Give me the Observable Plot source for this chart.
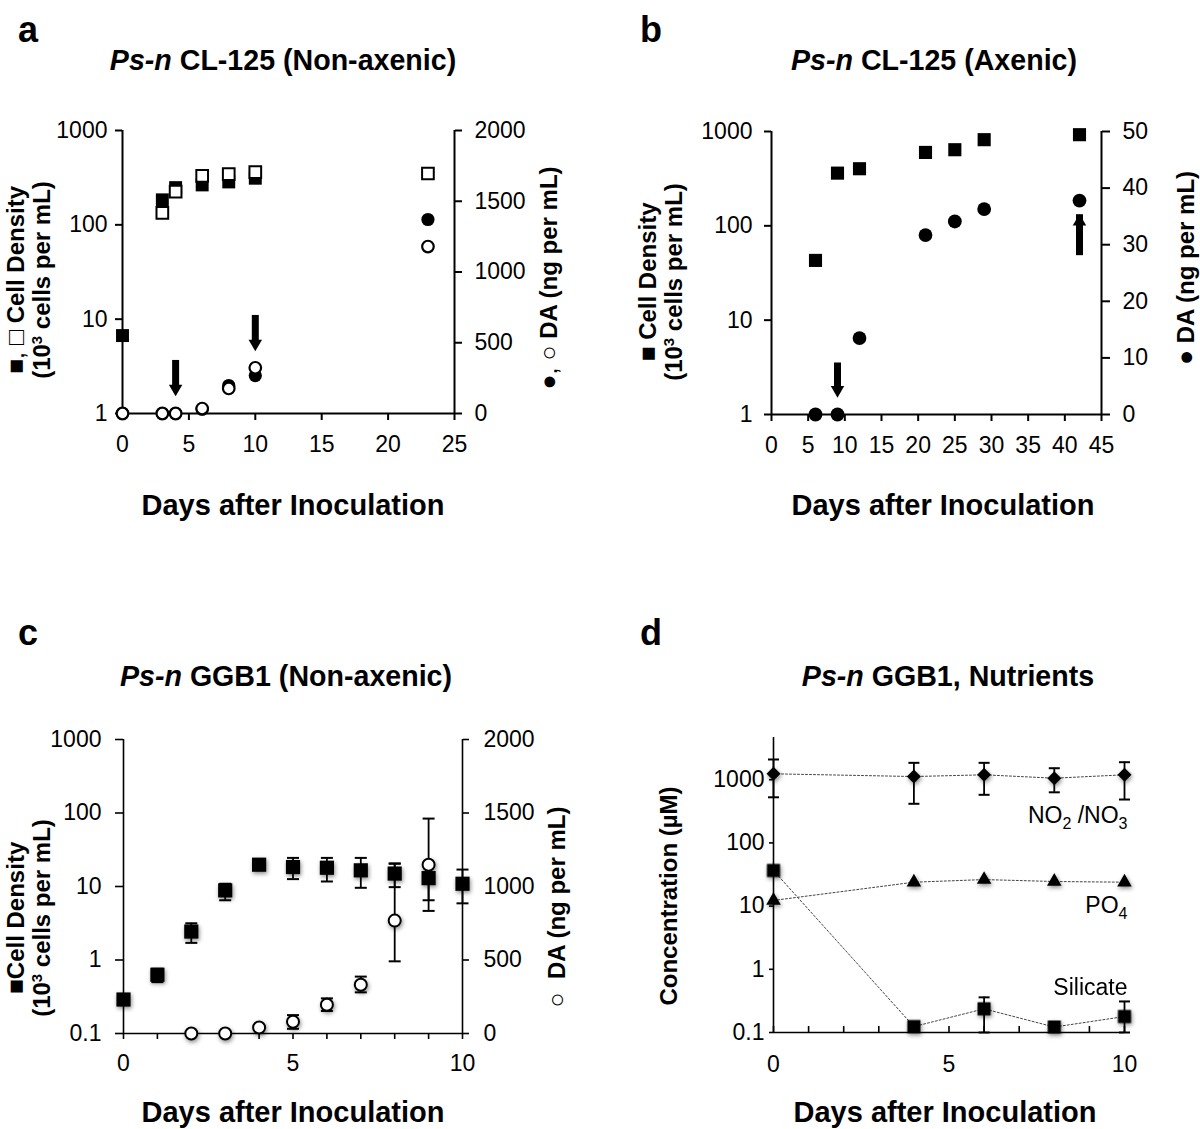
<!DOCTYPE html>
<html><head><meta charset="utf-8">
<script src="https://cdn.jsdelivr.net/npm/d3@7"></script>
<script src="https://cdn.jsdelivr.net/npm/@observablehq/plot@0.6"></script>
<style>
body{margin:0;background:#fff;}
#root{position:relative;width:1200px;height:1129px;background:#fff;font-family:"Liberation Sans",Arial,sans-serif;color:#000;overflow:hidden}
.t{position:absolute;white-space:nowrap;transform:translate(-50%,-50%);}
.rot{transform:translate(-50%,-50%) rotate(-90deg);text-align:center;font-weight:bold;font-size:24px;line-height:26px;}
.sym{font-size:25px;font-weight:normal;line-height:0;}
sup{font-size:0.62em;line-height:0;vertical-align:0.55em;}
.title{font-weight:bold;font-size:28.6px;}
.xt{font-weight:bold;font-size:29px;}
.letter{font-weight:bold;font-size:36px;}
</style></head><body><div id="root"></div>
<script>
// ---------- Panel a: Ps-n CL-125 (Non-axenic) ----------
const aDayTicks = [0, 5, 10, 15, 20, 25];
const aCellTicks = [1, 10, 100, 1000];
const aDATicks = [0, 500, 1000, 1500, 2000];
const aSqFilledDays = [0, 3, 4, 6, 8, 10];
const aSqFilledCells = [6.7, 184, 248, 265, 285, 312];
const aSqOpenDays = [3, 4, 6, 8, 10, 23];
const aSqOpenCells = [134, 225, 330, 345, 362, 350];
const aCircFilledDays = [0, 3, 4, 6, 8, 10, 23];
const aCircFilledDA = [0, 0, 0, 30, 198, 268, 1371];
const aCircOpenDays = [0, 3, 4, 6, 8, 10, 23];
const aCircOpenDA = [0, 0, 0, 35, 177, 323, 1180];
const aArrowDays = [4, 10];
const aArrowTail = [375, 693];
const aArrowTip = [127, 445];

// ---------- Panel b: Ps-n CL-125 (Axenic) ----------
const bDayTicks = [0, 5, 10, 15, 20, 25, 30, 35, 40, 45];
const bCellTicks = [1, 10, 100, 1000];
const bDATicks = [0, 10, 20, 30, 40, 50];
const bDays = [6, 9, 12, 21, 25, 29, 42];
const bCells = [43, 362, 403, 600, 641, 819, 925];
const bDA = [0, 0, 13.5, 31.7, 34.1, 36.3, 37.8];
const bArrowDays = [9, 42];
const bArrowTail = [9.1, 29.3];
const bArrowTip = [3.1, 35.3];
const bArrowDir = ["down", "up"];

// ---------- Panel c: Ps-n GGB1 (Non-axenic) ----------
const cDayTicks = [0, 1, 2, 3, 4, 5, 6, 7, 8, 9, 10];
const cCellTicks = [0.1, 1, 10, 100, 1000];
const cDATicks = [0, 500, 1000, 1500, 2000];
const cCellDays = [0, 1, 2, 3, 4, 5, 6, 7, 8, 9, 10];
const cCells = [0.29, 0.63, 2.44, 8.85, 19.8, 18.4, 18.0, 16.6, 15.0, 13.0, 10.9];
const cCellsLo = [0.29, 0.50, 1.71, 6.5, 18.5, 12.6, 11.7, 9.6, 9.8, 6.5, 5.9];
const cCellsHi = [0.29, 0.76, 3.16, 10.9, 21.0, 24.5, 24.5, 24.5, 20.6, 19.5, 17.0];
const cDADays = [2, 3, 4, 5, 6, 7, 8, 9];
const cDA = [0, 0, 41, 80, 196, 332, 768, 1148];
const cDALo = [0, 0, 41, 32, 153, 280, 491, 834];
const cDAHi = [0, 0, 41, 125, 239, 387, 1155, 1462];

// ---------- Panel d: Ps-n GGB1, Nutrients ----------
const dDayTicks = [0, 1, 2, 3, 4, 5, 6, 7, 8, 9, 10];
const dConcTicks = [0.1, 1, 10, 100, 1000];
const dDays = [0, 4, 6, 8, 10];
const dNO = [1240, 1123, 1196, 1057, 1196];
const dNOLo = [527, 416, 577, 632, 486];
const dNOHi = [2090, 1850, 1850, 1520, 1893];
const dPO4 = [12.3, 23.9, 26.3, 24.5, 23.9];
const dSi = [36.6, 0.124, 0.237, 0.122, 0.179];
const dSiLo = [36.6, 0.124, 0.1, 0.122, 0.1];
const dSiHi = [36.6, 0.124, 0.36, 0.122, 0.31];
const dLabels = ["NO\u2082 /NO\u2083", "PO\u2084", "Silicate"];
const dLabelDay = [10, 10, 10];
const dLabelConc = [272, 10.2, 0.52];

// ---------- helpers ----------
const root = document.getElementById("root");
const fmt = d => String(d);
const every5 = d => (d % 5 === 0 ? String(d) : "");
const cap = {draw(ctx, size) { const w = Math.sqrt(size / Math.PI); ctx.moveTo(-w, 0); ctx.lineTo(w, 0); }};
const baseStyle = {fontFamily: '"Liberation Sans", Arial, sans-serif', fontSize: "23px", background: "transparent", overflow: "visible", color: "black"};
const shadow = "drop-shadow(1px 2px 2px rgba(0,0,0,0.45))";
const pts = (xs, ys, extra = {}) => xs.map((x, i) => {
  const o = {x, y: ys[i]};
  for (const k in extra) o[k] = extra[k][i];
  return o;
});
function place(svg, left, top) {
  svg.style.position = "absolute";
  svg.style.left = left + "px";
  svg.style.top = top + "px";
  root.appendChild(svg);
  return svg;
}
function text(x, y, html, cls) {
  const d = document.createElement("div");
  d.className = "t " + (cls || "");
  d.style.left = x + "px";
  d.style.top = y + "px";
  d.innerHTML = html;
  root.appendChild(d);
}
// turn unicode subscript digits into real lowered, smaller tspans
const subMap = {"\u2082": "2", "\u2083": "3", "\u2084": "4"};
function fixSubscripts(svg) {
  const ns = "http://www.w3.org/2000/svg";
  svg.querySelectorAll("text").forEach(t => {
    const s = t.textContent;
    if (!/[\u2082-\u2084]/.test(s)) return;
    while (t.firstChild) t.removeChild(t.firstChild);
    let lowered = false;
    for (const ch of s) {
      const ts = document.createElementNS(ns, "tspan");
      if (subMap[ch]) {
        ts.textContent = subMap[ch];
        ts.setAttribute("font-size", "16");
        ts.setAttribute("dy", lowered ? "0" : "6");
        lowered = true;
      } else {
        ts.textContent = ch;
        ts.setAttribute("dy", lowered ? "-6" : "0");
        lowered = false;
      }
      t.appendChild(ts);
    }
  });
}

// ---------- Panel a ----------
const dimA = {width: 600, height: 360, marginTop: 30, marginBottom: 47, marginLeft: 122, marginRight: 146, style: baseStyle};
const aArrows = pts(aArrowDays, aArrowTail, {tip: aArrowTip});
place(Plot.plot({
  ...dimA,
  x: {domain: [0, 25]},
  y: {type: "log", domain: [1, 1000]},
  marks: [
    Plot.ruleX([0], {strokeWidth: 2}),
    Plot.ruleY([1], {strokeWidth: 2}),
    Plot.axisY({ticks: aCellTicks, tickFormat: fmt, tickSize: 7, tickPadding: 8, strokeWidth: 2, label: null}),
    Plot.axisX({ticks: aDayTicks, tickFormat: fmt, tickSize: 7, tickPadding: 15, strokeWidth: 2, label: null}),
    Plot.dot(pts(aSqFilledDays, aSqFilledCells), {x: "x", y: "y", symbol: "square", r: 7.3, fill: "black"}),
    Plot.dot(pts(aSqOpenDays, aSqOpenCells), {x: "x", y: "y", symbol: "square", r: 6.6, fill: "white", stroke: "black", strokeWidth: 2})
  ]
}), 0, 100);
place(Plot.plot({
  ...dimA,
  x: {domain: [0, 25], axis: null},
  y: {domain: [0, 2000]},
  marks: [
    Plot.ruleX([25], {strokeWidth: 2}),
    Plot.axisY({anchor: "right", ticks: aDATicks, tickFormat: fmt, tickSize: 7, tickPadding: 13, strokeWidth: 2, label: null}),
    Plot.ruleX(aArrows, {x: "x", y1: "y", y2: "tip", strokeWidth: 7, insetBottom: 7}),
    Plot.dot(aArrows, {x: "x", y: "tip", symbol: "triangle", r: 5, rotate: 180, dy: -7, fill: "black"}),
    Plot.dot(pts(aCircFilledDays, aCircFilledDA), {x: "x", y: "y", r: 6.6, fill: "black"}),
    Plot.dot(pts(aCircOpenDays, aCircOpenDA), {x: "x", y: "y", r: 5.8, fill: "white", stroke: "black", strokeWidth: 2.2})
  ]
}), 0, 100);

// ---------- Panel b ----------
const dimB = {width: 600, height: 360, marginTop: 31, marginBottom: 46, marginLeft: 171, marginRight: 99, style: baseStyle};
const bArrows = pts(bArrowDays, bArrowTail, {tip: bArrowTip, dir: bArrowDir});
place(Plot.plot({
  ...dimB,
  x: {domain: [0, 45]},
  y: {type: "log", domain: [1, 1000]},
  marks: [
    Plot.ruleX([0], {strokeWidth: 2}),
    Plot.ruleY([1], {strokeWidth: 2}),
    Plot.axisY({ticks: bCellTicks, tickFormat: fmt, tickSize: 7, tickPadding: 12, strokeWidth: 2, label: null}),
    Plot.axisX({ticks: bDayTicks, tickFormat: fmt, tickSize: 7, tickPadding: 15, strokeWidth: 2, label: null}),
    Plot.dot(pts(bDays, bCells), {x: "x", y: "y", symbol: "square", r: 7.4, fill: "black"})
  ]
}), 600, 100);
place(Plot.plot({
  ...dimB,
  x: {domain: [0, 45], axis: null},
  y: {domain: [0, 50]},
  marks: [
    Plot.ruleX([45], {strokeWidth: 2}),
    Plot.axisY({anchor: "right", ticks: bDATicks, tickFormat: fmt, tickSize: 8, tickPadding: 13, strokeWidth: 2, label: null}),
    Plot.ruleX(bArrows.filter(d => d.dir === "down"), {x: "x", y1: "y", y2: "tip", strokeWidth: 7, insetBottom: 7}),
    Plot.dot(bArrows.filter(d => d.dir === "down"), {x: "x", y: "tip", symbol: "triangle", r: 5, rotate: 180, dy: -7, fill: "black"}),
    Plot.ruleX(bArrows.filter(d => d.dir === "up"), {x: "x", y1: "y", y2: "tip", strokeWidth: 7, insetTop: 7}),
    Plot.dot(bArrows.filter(d => d.dir === "up"), {x: "x", y: "tip", symbol: "triangle", r: 5, dy: 7, fill: "black"}),
    Plot.dot(pts(bDays, bDA), {x: "x", y: "y", r: 6.9, fill: "black"})
  ]
}), 600, 100);

// ---------- Panel c ----------
const dimC = {width: 600, height: 370, marginTop: 29, marginBottom: 47, marginLeft: 123, marginRight: 138, style: baseStyle};
const cSq = pts(cCellDays, cCells, {lo: cCellsLo, hi: cCellsHi});
const cCi = pts(cDADays, cDA, {lo: cDALo, hi: cDAHi});
place(Plot.plot({
  ...dimC,
  x: {domain: [0, 10]},
  y: {type: "log", domain: [0.1, 1000]},
  marks: [
    Plot.ruleX([0], {strokeWidth: 1.6}),
    Plot.ruleY([0.1], {strokeWidth: 1.6}),
    Plot.axisY({ticks: cCellTicks, tickFormat: fmt, tickSize: 8, tickPadding: 14, strokeWidth: 1.6, label: null}),
    Plot.axisX({ticks: cDayTicks, tickFormat: every5, tickSize: 6, tickPadding: 15, strokeWidth: 1.6, label: null}),
    Plot.ruleX(cSq, {x: "x", y1: "lo", y2: "hi", strokeWidth: 1.8}),
    Plot.dot(cSq, {x: "x", y: "lo", symbol: cap, r: 6, stroke: "black", strokeWidth: 2}),
    Plot.dot(cSq, {x: "x", y: "hi", symbol: cap, r: 6, stroke: "black", strokeWidth: 2}),
    Plot.dot(cSq, {x: "x", y: "y", symbol: "square", r: 8, fill: "black", imageFilter: shadow})
  ]
}), 0, 710);
place(Plot.plot({
  ...dimC,
  x: {domain: [0, 10], axis: null},
  y: {domain: [0, 2000]},
  marks: [
    Plot.ruleX([10], {strokeWidth: 1.6}),
    Plot.axisY({anchor: "right", ticks: cDATicks, tickFormat: fmt, tickSize: 6, tickPadding: 15, strokeWidth: 1.6, label: null}),
    Plot.ruleX(cCi, {x: "x", y1: "lo", y2: "hi", strokeWidth: 1.8}),
    Plot.dot(cCi, {x: "x", y: "lo", symbol: cap, r: 6, stroke: "black", strokeWidth: 2}),
    Plot.dot(cCi, {x: "x", y: "hi", symbol: cap, r: 6, stroke: "black", strokeWidth: 2}),
    Plot.dot(cCi, {x: "x", y: "y", r: 6, fill: "white", stroke: "black", strokeWidth: 2, imageFilter: shadow})
  ]
}), 0, 710);

// ---------- Panel d ----------
const dNORows = pts(dDays, dNO, {lo: dNOLo, hi: dNOHi});
const dPORows = pts(dDays, dPO4);
const dSiRows = pts(dDays, dSi, {lo: dSiLo, hi: dSiHi});
const dLab = pts(dLabelDay, dLabelConc, {label: dLabels});
const svgD = place(Plot.plot({
  width: 600, height: 370, marginTop: 27, marginBottom: 48, marginLeft: 173, marginRight: 76, style: baseStyle,
  x: {domain: [0, 10]},
  y: {type: "log", domain: [0.1, 4656]},
  marks: [
    Plot.ruleX([0], {strokeWidth: 1.6}),
    Plot.ruleY([0.1], {strokeWidth: 1.6}),
    Plot.axisY({ticks: dConcTicks, tickFormat: fmt, tickSize: 4, tickPadding: 5, strokeWidth: 1.6, label: null}),
    Plot.axisX({ticks: dDayTicks, tickFormat: every5, tickSize: 0, tickPadding: 23, label: null}),
    Plot.ruleX(dDayTicks, {strokeWidth: 1.6, insetTop: 289}),
    Plot.line(dNORows, {x: "x", y: "y", stroke: "#444", strokeWidth: 1, strokeDasharray: "2,2"}),
    Plot.line(dPORows, {x: "x", y: "y", stroke: "#444", strokeWidth: 1, strokeDasharray: "2,2"}),
    Plot.line(dSiRows, {x: "x", y: "y", stroke: "#444", strokeWidth: 1, strokeDasharray: "2,2"}),
    Plot.ruleX(dNORows, {x: "x", y1: "lo", y2: "hi", strokeWidth: 1.8}),
    Plot.dot(dNORows, {x: "x", y: "lo", symbol: cap, r: 5.5, stroke: "black", strokeWidth: 2}),
    Plot.dot(dNORows, {x: "x", y: "hi", symbol: cap, r: 5.5, stroke: "black", strokeWidth: 2}),
    Plot.ruleX(dSiRows, {x: "x", y1: "lo", y2: "hi", strokeWidth: 1.8}),
    Plot.dot(dSiRows, {x: "x", y: "lo", symbol: cap, r: 5.5, stroke: "black", strokeWidth: 2}),
    Plot.dot(dSiRows, {x: "x", y: "hi", symbol: cap, r: 5.5, stroke: "black", strokeWidth: 2}),
    Plot.dot(dNORows, {x: "x", y: "y", symbol: "diamond2", r: 6.3, fill: "black", imageFilter: shadow}),
    Plot.dot(dPORows, {x: "x", y: "y", symbol: "triangle", r: 5.4, fill: "black", imageFilter: shadow}),
    Plot.dot(dSiRows, {x: "x", y: "y", symbol: "square", r: 7.4, fill: "black", imageFilter: shadow}),
    Plot.text(dLab, {x: "x", y: "y", text: "label", textAnchor: "end", dx: 3, fontSize: 23})
  ]
}), 600, 710);
fixSubscripts(svgD);

// ---------- titles and axis labels ----------
text(28, 30, "a", "letter");
text(651, 30, "b", "letter");
text(28, 633, "c", "letter");
text(651, 633, "d", "letter");
text(283, 60, "<i>Ps-n</i> CL-125 (Non-axenic)", "title");
text(934, 60, "<i>Ps-n</i> CL-125 (Axenic)", "title");
text(286, 676, "<i>Ps-n</i> GGB1 (Non-axenic)", "title");
text(948, 676, "<i>Ps-n</i> GGB1, Nutrients", "title");
text(293, 505, "Days after Inoculation", "xt");
text(943, 505, "Days after Inoculation", "xt");
text(293, 1112, "Days after Inoculation", "xt");
text(945, 1112, "Days after Inoculation", "xt");
text(29, 280, '<span class="sym">\u25A0, \u25A1</span> Cell Density<br>(10<sup>3</sup> cells per mL)', "rot");
text(549, 278, '<span class="sym">\u25CF, \u25CB</span> DA (ng per mL)', "rot");
text(661, 282, '<span class="sym">\u25A0</span> Cell Density<br>(10<sup>3</sup> cells per mL)', "rot");
text(1186, 268, '<span class="sym">\u25CF</span> DA (ng per mL)', "rot");
text(29, 918, '<span class="sym">\u25A0</span>Cell Density<br>(10<sup>3</sup> cells per mL)', "rot");
text(557, 907, '<span class="sym">\u25CB</span>&nbsp; DA (ng per mL)', "rot");
text(669, 896, 'Concentration (\u00B5M)', "rot");
</script></body></html>
